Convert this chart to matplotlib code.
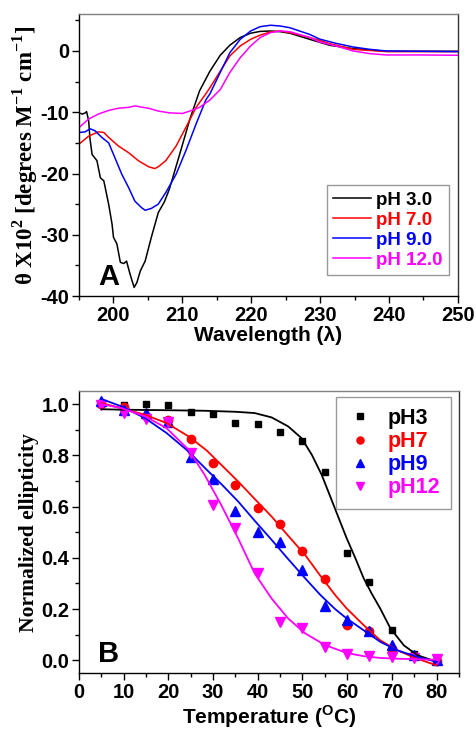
import matplotlib
matplotlib.use('Agg')
from matplotlib import pyplot as plt
from matplotlib.ticker import MultipleLocator

plt.rcParams['font.family'] = 'Liberation Sans'
plt.rcParams['font.weight'] = 'bold'
plt.rcParams['axes.unicode_minus'] = False
plt.rcParams['mathtext.fontset'] = 'custom'
plt.rcParams['mathtext.rm'] = 'Liberation Serif:bold'
plt.rcParams['mathtext.bf'] = 'Liberation Serif:bold'
plt.rcParams['mathtext.sf'] = 'Liberation Sans:bold'

# panel A - CD spectra
wl_ph3 = [195, 195.5, 195.9, 196.1, 196.4, 196.6, 196.9, 197.6, 198.1, 198.6,
          199.3, 199.8, 200.0, 200.5, 201.0, 201.5, 201.9, 202.4, 203.0, 203.4,
          203.9, 204.6, 205.5, 206.5, 207.4, 208.1, 209.6, 211.1, 212.5, 214.0,
          215.5, 216.9, 218.4, 219.9, 221.3, 222.8, 224.2, 225.6, 228.5, 231.4,
          234.8, 239.6, 245, 250]
cd_ph3 = [-10.1, -10.3, -10.1, -9.9, -11.4, -14.4, -16.9, -17.9, -20.7, -21.2,
          -25.0, -28.3, -30.4, -31.5, -34.5, -34.7, -34.3, -36.4, -38.6, -37.8,
          -35.9, -34.3, -30.4, -26.4, -24.6, -22.6, -16.9, -11.1, -6.5, -3.3,
          -0.7, 0.95, 2.2, 2.9, 3.2, 3.26, 3.15, 2.9, 1.9, 0.93,
          0.38, -0.05, -0.05, -0.05]

wl_ph7 = [195, 196.4, 197.8, 198.6, 199.3, 200.7, 202.2, 203.6, 205.1, 206.0,
          206.5, 207.6, 209.1, 210.5, 212.0, 213.4, 214.0, 215.5, 216.9, 218.4,
          219.9, 221.3, 222.8, 224.2, 225.6, 228.5, 231.4, 234.8, 239.6, 245, 250]
cd_ph7 = [-15.2, -13.9, -13.2, -13.3, -14.1, -15.5, -16.6, -17.9, -18.9, -19.2,
          -18.9, -17.9, -15.5, -12.5, -9.2, -7.0, -6.0, -3.3, -0.8, 0.82,
          1.9, 2.6, 3.1, 3.26, 3.0, 2.2, 1.2, 0.27, -0.1, -0.1, -0.1]

wl_ph9 = [195, 195.9, 196.6, 197.3, 198.3, 199.3, 200.2, 201.2, 202.2, 203.1,
          204.1, 204.6, 205.5, 206.5, 207.6, 209.1, 210.5, 212.0, 213.4, 214.0,
          215.5, 216.9, 218.4, 219.9, 221.3, 222.8, 224.2, 225.6, 228.5, 229.9,
          232.3, 234.8, 237.2, 239.6, 245, 250]
cd_ph9 = [-13.3, -13.2, -12.7, -13.0, -14.1, -15.0, -17.4, -20.1, -22.3, -24.5,
          -25.6, -26.0, -25.7, -25.0, -23.1, -20.1, -16.3, -11.9, -8.0, -7.0,
          -3.5, -0.27, 1.9, 3.26, 3.97, 4.2, 4.08, 3.8, 2.7, 1.95,
          1.25, 0.65, 0.27, 0.0, -0.05, -0.1]

wl_ph12 = [195, 196.4, 197.8, 199.3, 200.7, 202.2, 203.1, 205.1, 206.5, 208.1,
           210.0, 211.1, 212.5, 214.0, 215.5, 216.9, 218.4, 219.9, 221.3, 222.8,
           224.2, 225.6, 228.5, 229.9, 232.3, 234.8, 237.2, 239.6, 244.5, 250]
cd_ph12 = [-12.5, -11.1, -10.3, -9.7, -9.35, -9.2, -8.97, -9.35, -9.8, -10.1,
           -10.2, -9.8, -9.2, -8.0, -6.3, -3.5, -1.1, 0.82, 2.2, 3.0,
           3.26, 3.15, 2.2, 1.47, 0.82, 0.0, -0.43, -0.65, -0.65, -0.7]

# panel B - thermal melts
temps = [5, 10, 15, 20, 25, 30, 35, 40, 45, 50, 55, 60, 65, 70, 75, 80]
ell_ph3 = [1.0, 0.998, 1.0, 0.998, 0.968, 0.962, 0.928, 0.923, 0.891, 0.857,
           0.736, 0.417, 0.304, 0.12, 0.025, 0.0]
ell_ph7 = [1.0, 0.99, 0.955, 0.937, 0.864, 0.769, 0.685, 0.593, 0.531, 0.428,
           0.316, 0.137, 0.113, 0.043, 0.015, -0.004]
ell_ph9 = [1.012, 0.978, 0.965, 0.932, 0.792, 0.708, 0.583, 0.502, 0.46, 0.352,
           0.211, 0.159, 0.113, 0.058, 0.02, 0.002]
ell_ph12 = [0.997, 0.965, 0.943, 0.93, 0.808, 0.606, 0.518, 0.339, 0.15, 0.124,
            0.052, 0.026, 0.016, 0.011, 0.007, 0.003]

# fitted curves
fit_t3 = [5, 10, 20, 28, 35, 39.3, 43.1, 46.8, 49.8, 52.1, 54.3, 56.2, 58, 59.9,
          61.8, 63.7, 65.5, 67.4, 69.7, 72.7, 75.7, 80]
fit_ph3 = [0.98, 0.978, 0.976, 0.974, 0.97, 0.965, 0.948, 0.913, 0.867, 0.802,
           0.724, 0.64, 0.56, 0.476, 0.40, 0.32, 0.26, 0.202, 0.124, 0.058, 0.02,
           -0.006]
fit_t7 = [5, 9.5, 14.8, 19.6, 24.5, 28.5, 32, 35.6, 39.3, 43.1, 46.8, 50.6, 54,
          57.3, 59.9, 63.7, 67.4, 71.2, 75.7, 80]
fit_ph7 = [1.004, 0.984, 0.958, 0.926, 0.874, 0.82, 0.76, 0.698, 0.63, 0.561,
           0.486, 0.411, 0.33, 0.255, 0.202, 0.137, 0.078, 0.039, 0.006, -0.02]
fit_t9 = [5, 9.5, 14.8, 19.6, 24.5, 28.5, 32, 35.6, 39.3, 43.1, 46.8, 50.6, 54,
          57.3, 59.9, 63.7, 67.4, 71.2, 75.7, 80]
fit_ph9 = [1.02, 0.991, 0.945, 0.887, 0.815, 0.745, 0.685, 0.62, 0.545, 0.47,
           0.395, 0.32, 0.255, 0.2, 0.163, 0.117, 0.072, 0.039, 0.013, -0.006]
fit_t12 = [5, 9.5, 14.8, 19.6, 24.5, 28.1, 31.8, 35.6, 39.3, 43.1, 46.8, 50.6,
           54, 56.5, 60, 63.7, 67.4, 71.2, 80]
fit_ph12 = [1.0, 0.984, 0.952, 0.906, 0.822, 0.724, 0.607, 0.476, 0.339, 0.241,
            0.163, 0.105, 0.07, 0.05, 0.028, 0.016, 0.009, 0.006, 0.002]

colors = ['black', '#ff0000', '#0000ff', '#ff00ff']

fig = plt.figure(figsize=(4.76, 7.3), dpi=100)

# ---- panel A
axA = fig.add_axes([0.166, 0.5945, 0.796, 0.386])
axA.plot(wl_ph3, cd_ph3, color=colors[0], lw=1.1, label='pH 3.0')
axA.plot(wl_ph7, cd_ph7, color=colors[1], lw=1.1, label='pH 7.0')
axA.plot(wl_ph9, cd_ph9, color=colors[2], lw=1.1, label='pH 9.0')
axA.plot(wl_ph12, cd_ph12, color=colors[3], lw=1.1, label='pH 12.0')
axA.set_xlim(195, 250)
axA.set_ylim(-40, 6)
axA.xaxis.set_major_locator(MultipleLocator(10))
axA.xaxis.set_minor_locator(MultipleLocator(5))
axA.yaxis.set_major_locator(MultipleLocator(10))
axA.yaxis.set_minor_locator(MultipleLocator(5))
axA.set_xlabel('Wavelength (λ)', fontsize=15, fontweight='bold', labelpad=1)
axA.set_ylabel('θ X10$^{\\mathbf{2}}$ [degrees M$^{\\mathbf{-1}}$ cm$^{\\mathbf{-1}}$]',
               fontsize=16.5, fontweight='bold', family='Liberation Serif', labelpad=0)
legA = axA.legend(loc='lower left', bbox_to_anchor=(0.654, 0.074), borderaxespad=0,
                  fontsize=13.5, handlelength=2.0, handletextpad=0.25,
                  labelspacing=0.15, fancybox=False, edgecolor='gray',
                  borderpad=0.35)
for txt, c in zip(legA.get_texts(), colors):
    txt.set_color(c)
axA.text(0.05, 0.04, 'A', transform=axA.transAxes, fontsize=21,
         fontweight='bold')

# ---- panel B
axB = fig.add_axes([0.166, 0.078, 0.798, 0.386])
markers = ['s', 'o', '^', 'v']
sizes = [5, 6, 6.5, 6.5]
series = [ell_ph3, ell_ph7, ell_ph9, ell_ph12]
labels = ['pH3', 'pH7', 'pH9', 'pH12']
for ys, c, m, s, lab in zip(series, colors, markers, sizes, labels):
    axB.plot(temps, ys, linestyle='none', marker=m, color=c, markersize=s,
             label=lab)
axB.plot(fit_t3, fit_ph3, color=colors[0], lw=1.3)
axB.plot(fit_t7, fit_ph7, color=colors[1], lw=1.3)
axB.plot(fit_t9, fit_ph9, color=colors[2], lw=1.3)
axB.plot(fit_t12, fit_ph12, color=colors[3], lw=1.3)
axB.set_xlim(0, 85)
axB.set_ylim(-0.05, 1.05)
axB.xaxis.set_major_locator(MultipleLocator(10))
axB.xaxis.set_minor_locator(MultipleLocator(5))
axB.yaxis.set_major_locator(MultipleLocator(0.2))
axB.yaxis.set_minor_locator(MultipleLocator(0.1))
axB.set_xlabel('Temperature ($^{\\mathsf{O}}$C)', fontsize=15, fontweight='bold',
               labelpad=1)
axB.set_ylabel('Normalized ellipticity', fontsize=15.5, fontweight='bold',
               family='Liberation Serif', labelpad=2)
legB = axB.legend(loc='upper right', bbox_to_anchor=(0.98, 0.979), borderaxespad=0,
                  fontsize=15.5, handlelength=1.2, handletextpad=0.7,
                  labelspacing=0.1, fancybox=False, edgecolor='gray',
                  borderpad=0.5, markerscale=0.85)
for txt, c in zip(legB.get_texts(), colors):
    txt.set_color(c)
axB.text(0.05, 0.04, 'B', transform=axB.transAxes, fontsize=21,
         fontweight='bold')

for ax in (axA, axB):
    ax.tick_params(which='both', direction='out', top=False, right=False,
                   labelsize=14.5, width=1, pad=2)
    ax.tick_params(which='major', length=5)
    ax.tick_params(which='minor', length=3)
    for lab in ax.get_xticklabels() + ax.get_yticklabels():
        lab.set_fontweight('bold')
    for sp in ax.spines.values():
        sp.set_linewidth(1.0)
    ax.spines['top'].set_color('gray')
    ax.spines['right'].set_color('#333333')

fig.savefig('out.png', dpi=100)
